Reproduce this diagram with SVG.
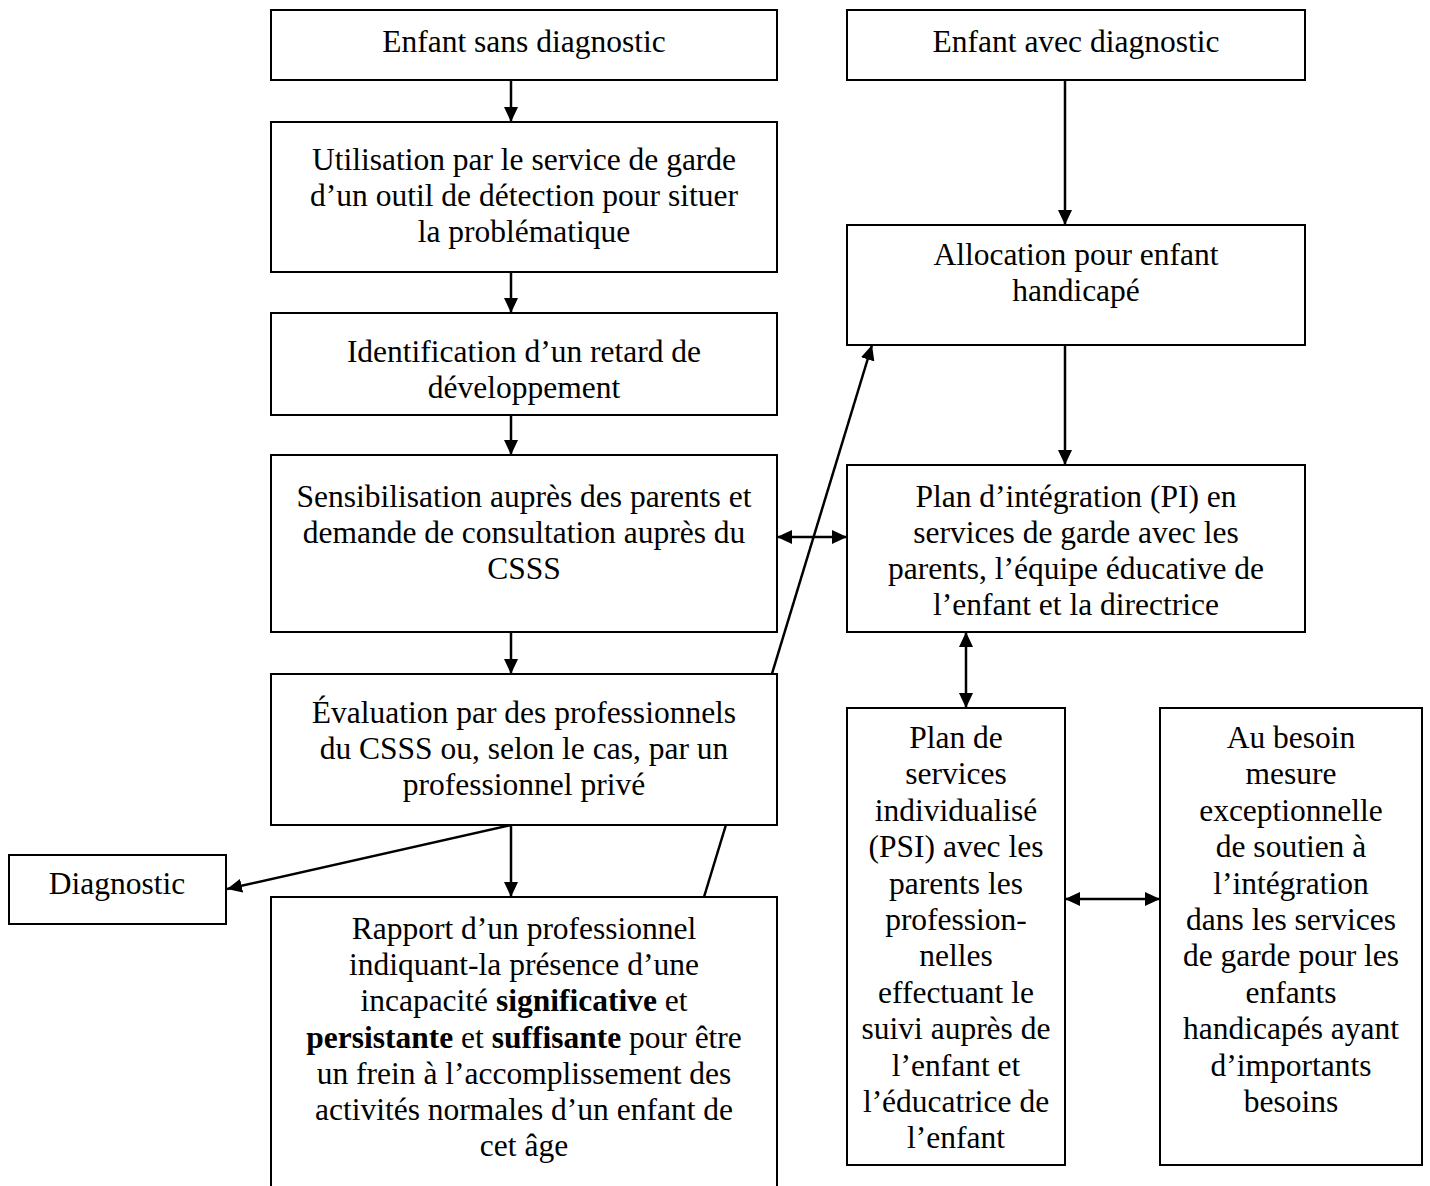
<svg xmlns="http://www.w3.org/2000/svg" width="1430" height="1186" viewBox="0 0 1430 1186">
<style>
.box{fill:#fff;stroke:#000;stroke-width:2}
.t{font-family:"Liberation Serif","Times New Roman",serif;font-size:31.5px;fill:#000;text-anchor:middle}
.c{stroke:#000;stroke-width:2.5;fill:none}
.b{font-weight:bold}
</style>
<defs>
<marker id="ah" viewBox="0 0 15 14" refX="15" refY="7" markerWidth="15" markerHeight="14" orient="auto-start-reverse" markerUnits="userSpaceOnUse"><path d="M0,0 L15,7 L0,14 z" fill="#000"/></marker>
</defs>
<g id="connectors">
<line class="c" x1="511" y1="80" x2="511" y2="122" marker-end="url(#ah)"/>
<line class="c" x1="511" y1="272" x2="511" y2="313" marker-end="url(#ah)"/>
<line class="c" x1="511" y1="415" x2="511" y2="455" marker-end="url(#ah)"/>
<line class="c" x1="511" y1="632" x2="511" y2="674" marker-end="url(#ah)"/>
<line class="c" x1="511" y1="825" x2="511" y2="897" marker-end="url(#ah)"/>
<line class="c" x1="511" y1="825" x2="227" y2="889" marker-end="url(#ah)"/>
<line class="c" x1="704" y1="897" x2="872" y2="345" marker-end="url(#ah)"/>
<line class="c" x1="1065" y1="80" x2="1065" y2="225" marker-end="url(#ah)"/>
<line class="c" x1="1065" y1="345" x2="1065" y2="465" marker-end="url(#ah)"/>
<line class="c" x1="777" y1="537" x2="847" y2="537" marker-start="url(#ah)" marker-end="url(#ah)"/>
<line class="c" x1="966" y1="632" x2="966" y2="708" marker-start="url(#ah)" marker-end="url(#ah)"/>
<line class="c" x1="1065" y1="899" x2="1160" y2="899" marker-start="url(#ah)" marker-end="url(#ah)"/>
</g>
<g id="n1"><rect class="box" x="271" y="10" width="506" height="70"/>
<text class="t" x="524" y="52">Enfant sans diagnostic</text></g>
<g id="n2"><rect class="box" x="847" y="10" width="458" height="70"/>
<text class="t" x="1076" y="52">Enfant avec diagnostic</text></g>
<g id="n3"><rect class="box" x="271" y="122" width="506" height="150"/>
<text class="t" x="524" y="170">Utilisation par le service de garde</text>
<text class="t" x="524" y="206">d’un outil de détection pour situer</text>
<text class="t" x="524" y="242">la problématique</text></g>
<g id="n4"><rect class="box" x="271" y="313" width="506" height="102"/>
<text class="t" x="524" y="362">Identification d’un retard de</text>
<text class="t" x="524" y="398">développement</text></g>
<g id="n5"><rect class="box" x="847" y="225" width="458" height="120"/>
<text class="t" x="1076" y="265">Allocation pour enfant</text>
<text class="t" x="1076" y="301">handicapé</text></g>
<g id="n6"><rect class="box" x="271" y="455" width="506" height="177"/>
<text class="t" x="524" y="507">Sensibilisation auprès des parents et</text>
<text class="t" x="524" y="543">demande de consultation auprès du</text>
<text class="t" x="524" y="579">CSSS</text></g>
<g id="n7"><rect class="box" x="847" y="465" width="458" height="167"/>
<text class="t" x="1076" y="507">Plan d’intégration (PI) en</text>
<text class="t" x="1076" y="543">services de garde avec les</text>
<text class="t" x="1076" y="579">parents, l’équipe éducative de</text>
<text class="t" x="1076" y="615">l’enfant et la directrice</text></g>
<g id="n8"><rect class="box" x="271" y="674" width="506" height="151"/>
<text class="t" x="524" y="723">Évaluation par des professionnels</text>
<text class="t" x="524" y="759">du CSSS ou, selon le cas, par un</text>
<text class="t" x="524" y="795">professionnel privé</text></g>
<g id="n9"><rect class="box" x="9" y="855" width="217" height="69"/>
<text class="t" x="117" y="894">Diagnostic</text></g>
<g id="n10"><rect class="box" x="271" y="897" width="506" height="300"/>
<text class="t" x="524" y="939">Rapport d’un professionnel</text>
<text class="t" x="524" y="975">indiquant-la présence d’une</text>
<text class="t" x="524" y="1011">incapacité <tspan class="b">significative</tspan> et</text>
<text class="t" x="524" y="1048"><tspan class="b">persistante</tspan> et <tspan class="b">suffisante</tspan> pour être</text>
<text class="t" x="524" y="1084">un frein à l’accomplissement des</text>
<text class="t" x="524" y="1120">activités normales d’un enfant de</text>
<text class="t" x="524" y="1156">cet âge</text></g>
<g id="n11"><rect class="box" x="847" y="708" width="218" height="457"/>
<text class="t" x="956" y="748">Plan de</text>
<text class="t" x="956" y="784">services</text>
<text class="t" x="956" y="821">individualisé</text>
<text class="t" x="956" y="857">(PSI) avec les</text>
<text class="t" x="956" y="894">parents les</text>
<text class="t" x="956" y="930">profession-</text>
<text class="t" x="956" y="966">nelles</text>
<text class="t" x="956" y="1003">effectuant le</text>
<text class="t" x="956" y="1039">suivi auprès de</text>
<text class="t" x="956" y="1076">l’enfant et</text>
<text class="t" x="956" y="1112">l’éducatrice de</text>
<text class="t" x="956" y="1148">l’enfant</text></g>
<g id="n12"><rect class="box" x="1160" y="708" width="262" height="457"/>
<text class="t" x="1291" y="748">Au besoin</text>
<text class="t" x="1291" y="784">mesure</text>
<text class="t" x="1291" y="821">exceptionnelle</text>
<text class="t" x="1291" y="857">de soutien à</text>
<text class="t" x="1291" y="894">l’intégration</text>
<text class="t" x="1291" y="930">dans les services</text>
<text class="t" x="1291" y="966">de garde pour les</text>
<text class="t" x="1291" y="1003">enfants</text>
<text class="t" x="1291" y="1039">handicapés ayant</text>
<text class="t" x="1291" y="1076">d’importants</text>
<text class="t" x="1291" y="1112">besoins</text></g>
</svg>
